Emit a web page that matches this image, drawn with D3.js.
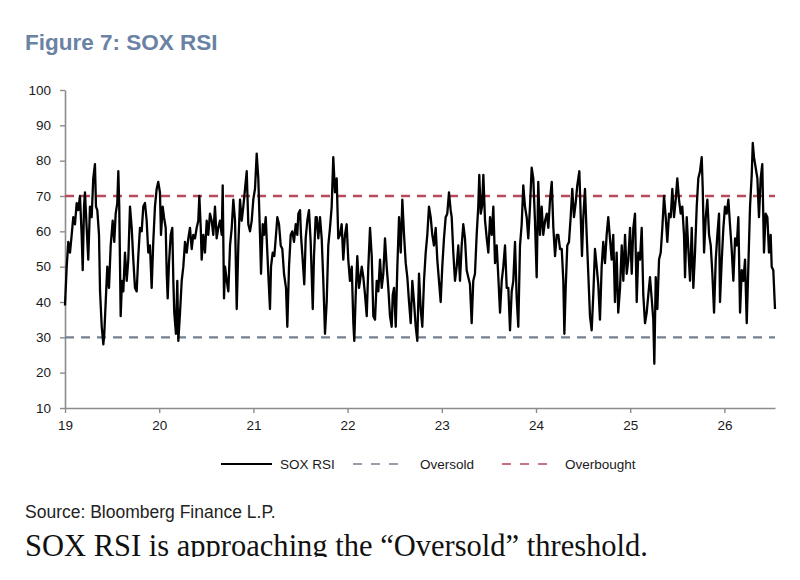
<!DOCTYPE html>
<html>
<head>
<meta charset="utf-8">
<script src="https://cdn.jsdelivr.net/npm/d3@7"></script>
<style>
  body { margin: 0; background: #fff; }
  svg { display: block; }
</style>
</head>
<body>
<svg id="chart" width="800" height="580"></svg>
<script>
// SOX RSI. yearOffset = years after 1 Jan 2019.
const startYear = 2019;

const yearOffset = [
  0.000, 0.018, 0.035, 0.053, 0.071, 0.088, 0.106, 0.124, 0.141, 0.159,
  0.177, 0.188, 0.202, 0.212, 0.230, 0.247, 0.265, 0.283, 0.300, 0.318,
  0.329, 0.343, 0.361, 0.372, 0.390, 0.407, 0.417, 0.432, 0.449, 0.467,
  0.485, 0.506, 0.523, 0.538, 0.555, 0.566, 0.576, 0.591, 0.605, 0.619,
  0.637, 0.655, 0.672, 0.690, 0.708, 0.725, 0.743, 0.761, 0.778, 0.796,
  0.814, 0.831, 0.849, 0.867, 0.884, 0.902, 0.920, 0.937, 0.955, 0.973,
  0.990, 1.008, 1.019, 1.037, 1.051, 1.069, 1.080, 1.090, 1.104, 1.122,
  1.139, 1.150, 1.160, 1.178, 1.192, 1.203, 1.221, 1.239, 1.256, 1.274,
  1.292, 1.309, 1.327, 1.345, 1.362, 1.380, 1.398, 1.415, 1.426, 1.441,
  1.451, 1.468, 1.486, 1.504, 1.521, 1.539, 1.557, 1.574, 1.592, 1.610,
  1.627, 1.645, 1.664, 1.674, 1.688, 1.699, 1.717, 1.734, 1.752, 1.770,
  1.787, 1.805, 1.823, 1.840, 1.858, 1.876, 1.893, 1.911, 1.929, 1.946,
  1.964, 1.982, 1.999, 2.017, 2.035, 2.052, 2.070, 2.081, 2.099, 2.113,
  2.131, 2.141, 2.158, 2.176, 2.187, 2.205, 2.222, 2.240, 2.254, 2.272,
  2.290, 2.307, 2.325, 2.346, 2.360, 2.378, 2.396, 2.413, 2.431, 2.449,
  2.466, 2.477, 2.495, 2.505, 2.523, 2.540, 2.555, 2.572, 2.590, 2.608,
  2.630, 2.643, 2.661, 2.672, 2.689, 2.707, 2.725, 2.742, 2.760, 2.778,
  2.795, 2.813, 2.831, 2.848, 2.866, 2.884, 2.901, 2.919, 2.937, 2.954,
  2.972, 2.990, 3.007, 3.025, 3.044, 3.061, 3.071, 3.086, 3.103, 3.121,
  3.132, 3.150, 3.167, 3.185, 3.203, 3.220, 3.238, 3.256, 3.273, 3.291,
  3.309, 3.326, 3.344, 3.362, 3.379, 3.397, 3.415, 3.432, 3.450, 3.468,
  3.479, 3.493, 3.511, 3.528, 3.546, 3.564, 3.581, 3.599, 3.617, 3.634,
  3.652, 3.670, 3.687, 3.705, 3.723, 3.740, 3.758, 3.776, 3.793, 3.811,
  3.829, 3.846, 3.864, 3.882, 3.899, 3.917, 3.935, 3.952, 3.970, 3.988,
  4.005, 4.023, 4.041, 4.058, 4.076, 4.094, 4.105, 4.122, 4.140, 4.158,
  4.175, 4.193, 4.211, 4.228, 4.246, 4.264, 4.281, 4.299, 4.317, 4.334,
  4.352, 4.370, 4.387, 4.398, 4.413, 4.427, 4.441, 4.459, 4.477, 4.494,
  4.512, 4.530, 4.547, 4.565, 4.583, 4.600, 4.618, 4.636, 4.653, 4.671,
  4.689, 4.706, 4.724, 4.742, 4.759, 4.777, 4.795, 4.812, 4.830, 4.848,
  4.865, 4.883, 4.901, 4.918, 4.936, 4.954, 4.971, 4.989, 5.007, 5.024,
  5.042, 5.060, 5.077, 5.096, 5.114, 5.131, 5.149, 5.167, 5.184, 5.202,
  5.220, 5.237, 5.255, 5.273, 5.290, 5.301, 5.315, 5.332, 5.350, 5.368,
  5.385, 5.403, 5.421, 5.438, 5.460, 5.475, 5.488, 5.502, 5.520, 5.538,
  5.555, 5.573, 5.591, 5.608, 5.626, 5.644, 5.661, 5.679, 5.697, 5.714,
  5.732, 5.750, 5.767, 5.785, 5.803, 5.820, 5.838, 5.856, 5.873, 5.892,
  5.910, 5.927, 5.945, 5.963, 5.980, 5.998, 6.016, 6.033, 6.051, 6.069,
  6.086, 6.104, 6.122, 6.139, 6.157, 6.175, 6.192, 6.210, 6.228, 6.245,
  6.256, 6.271, 6.288, 6.306, 6.324, 6.341, 6.359, 6.377, 6.394, 6.412,
  6.430, 6.447, 6.465, 6.483, 6.500, 6.518, 6.536, 6.553, 6.571, 6.582,
  6.600, 6.617, 6.635, 6.653, 6.670, 6.688, 6.706, 6.723, 6.741, 6.759,
  6.770, 6.784, 6.802, 6.819, 6.837, 6.855, 6.872, 6.890, 6.908, 6.925,
  6.943, 6.953, 6.972, 6.989, 7.006, 7.024, 7.042, 7.059, 7.077, 7.095,
  7.113, 7.131, 7.148, 7.166, 7.184, 7.201, 7.219, 7.237, 7.254, 7.272,
  7.290, 7.301, 7.314, 7.332, 7.350, 7.367, 7.385, 7.402, 7.420, 7.438,
  7.456, 7.473, 7.491, 7.502, 7.519, 7.537
];

const rsi = [
  39, 50, 57, 54, 59, 64, 62, 68, 66, 70,
  59, 49, 67, 71, 61, 52, 67, 64, 75, 79,
  67, 66, 59, 43, 33, 28, 31, 40, 50, 44,
  56, 63, 57, 65, 68, 77, 67, 36, 46, 43,
  54, 46, 52, 67, 61, 52, 44, 43, 53, 61,
  60, 67, 68, 63, 54, 56, 44, 57, 67, 72,
  74, 71, 59, 67, 64, 61, 48, 41, 51, 59,
  61, 46, 37, 31, 46, 29, 37, 46, 50, 57,
  54, 58, 61, 55, 59, 58, 61, 63, 70, 61,
  52, 59, 54, 63, 59, 65, 63, 59, 67, 58,
  61, 63, 59, 73, 41, 50, 46, 43, 56, 61,
  69, 63, 38, 56, 69, 63, 67, 72, 77, 62,
  60, 63, 69, 72, 82, 75, 59, 48, 62, 59,
  64, 58, 48, 38, 50, 54, 53, 59, 64, 62,
  56, 55, 48, 44, 33, 50, 59, 60, 57, 62,
  59, 65, 66, 59, 52, 45, 58, 63, 66, 57,
  38, 53, 64, 64, 58, 64, 58, 46, 31, 40,
  56, 61, 67, 81, 71, 75, 58, 59, 62, 52,
  59, 62, 52, 46, 50, 34, 29, 42, 53, 44,
  46, 50, 47, 42, 36, 50, 61, 53, 36, 35,
  46, 43, 52, 44, 48, 58, 50, 44, 36, 33,
  42, 44, 33, 50, 64, 54, 69, 59, 51, 47,
  40, 34, 46, 40, 33, 29, 48, 38, 33, 46,
  54, 59, 67, 64, 59, 56, 61, 52, 46, 40,
  50, 58, 64, 65, 71, 66, 64, 54, 46, 50,
  56, 46, 56, 62, 58, 49, 47, 45, 34, 46,
  48, 59, 67, 76, 65, 67, 76, 63, 58, 54,
  64, 59, 67, 51, 56, 47, 37, 46, 50, 56,
  44, 44, 32, 43, 46, 57, 41, 33, 56, 62,
  73, 67, 64, 58, 67, 78, 75, 63, 47, 74,
  59, 67, 59, 63, 65, 61, 69, 74, 61, 53,
  59, 59, 55, 55, 46, 31, 44, 56, 57, 64,
  72, 64, 68, 73, 77, 64, 53, 64, 72, 59,
  48, 36, 32, 42, 55, 50, 45, 35, 50, 57,
  51, 59, 64, 58, 52, 59, 40, 54, 37, 44,
  56, 46, 59, 48, 52, 61, 48, 61, 65, 40,
  54, 52, 61, 42, 34, 37, 42, 47, 41, 35,
  22.5, 47, 38, 52, 54, 61, 70, 64, 57, 65,
  64, 72, 64, 69, 75, 69, 65, 67, 59, 47,
  64, 55, 46, 61, 44, 54, 67, 75, 77, 81,
  72, 54, 64, 69, 59, 56, 48, 37, 52, 59,
  65, 40, 52, 61, 67, 65, 69, 62, 55, 46,
  58, 56, 64, 37, 49, 46, 52, 34, 50, 67,
  76, 85, 81, 78, 75, 64, 75, 79, 54, 65,
  64, 54, 59, 50, 49, 38
];

const yTicks = [10, 20, 30, 40, 50, 60, 70, 80, 90, 100];
const xTicks = [2019, 2020, 2021, 2022, 2023, 2024, 2025, 2026];
const thresholds = [30, 70];            // oversold, overbought
const legendLabels = ['SOX RSI', 'Oversold', 'Overbought'];

const title = 'Figure 7: SOX RSI';
const source = 'Source: Bloomberg Finance L.P.';
const caption = 'SOX RSI is approaching the \u201cOversold\u201d threshold.';

const series = yearOffset.map((t, i) => ({ year: startYear + t, value: rsi[i] }));

const svg = d3.select('#chart');
const font = 'Arial, "Liberation Sans", Helvetica, sans-serif';
const axisColor = '#8c8c8c';
const lineColors = ['#000000', '#74808f', '#b84a5c'];

svg.append('rect').attr('width', 800).attr('height', 580).attr('fill', '#fff');

const x = d3.scaleLinear()
  .domain([startYear, startYear + yearOffset[yearOffset.length - 1]])
  .range([65, 775]);
const y = d3.scaleLinear().domain([10, 100]).range([408, 90]);

// title
svg.append('text')
  .attr('x', 25).attr('y', 50)
  .attr('font-family', font).attr('font-size', 22.5).attr('font-weight', 'bold')
  .attr('fill', '#6a82a3')
  .text(title);

// axes
const yAxis = svg.append('g')
  .attr('transform', `translate(${x.range()[0]},0)`)
  .call(d3.axisLeft(y).tickValues(yTicks).tickSize(5).tickSizeOuter(0).tickPadding(9));
const xAxis = svg.append('g')
  .attr('transform', `translate(0,${y.range()[0]})`)
  .call(d3.axisBottom(x).tickValues(xTicks).tickFormat(d => String(d).slice(2))
    .tickSize(5).tickSizeOuter(0).tickPadding(7));

[yAxis, xAxis].forEach(g => {
  g.select('.domain').attr('stroke', axisColor).attr('stroke-width', 1.6);
  g.selectAll('.tick line').attr('stroke', axisColor).attr('stroke-width', 1.4);
  g.selectAll('.tick text')
    .attr('font-family', font).attr('font-size', 13.5).attr('fill', '#1a1a1a');
});

// threshold lines
svg.append('g').selectAll('line')
  .data(thresholds)
  .join('line')
  .attr('x1', x.range()[0]).attr('x2', x.range()[1])
  .attr('y1', d => y(d)).attr('y2', d => y(d))
  .attr('stroke', (d, i) => lineColors[i + 1])
  .attr('stroke-width', 2.4)
  .attr('stroke-dasharray', '9,7');

// RSI line
const line = d3.line().x(d => x(d.year)).y(d => y(d.value));
svg.append('path')
  .datum(series)
  .attr('d', line)
  .attr('fill', 'none')
  .attr('stroke', lineColors[0])
  .attr('stroke-width', 2.3)
  .attr('stroke-linejoin', 'round');

// legend
const legendX = [221, 353, 502];
const legend = svg.append('g').attr('transform', 'translate(0,464)');
const items = legend.selectAll('g')
  .data(legendLabels)
  .join('g')
  .attr('transform', (d, i) => `translate(${legendX[i]},0)`);
items.append('line')
  .attr('x1', 0).attr('x2', (d, i) => i === 0 ? 51 : 50)
  .attr('stroke', (d, i) => lineColors[i])
  .attr('stroke-width', (d, i) => i === 0 ? 2 : 1.6)
  .attr('stroke-dasharray', (d, i) => i === 0 ? null : '9,9');
items.append('text')
  .attr('x', (d, i) => i === 0 ? 59 : i === 1 ? 67 : 63)
  .attr('dy', '0.35em')
  .attr('font-family', font).attr('font-size', 13.5).attr('fill', '#1a1a1a')
  .text(d => d);

// source + caption
svg.append('text')
  .attr('x', 25).attr('y', 518)
  .attr('font-family', font).attr('font-size', 17.5).attr('fill', '#222')
  .text(source);

svg.append('clipPath').attr('id', 'capClip')
  .append('rect').attr('x', 0).attr('y', 520).attr('width', 800).attr('height', 37);
svg.append('text')
  .attr('x', 25).attr('y', 556)
  .attr('clip-path', 'url(#capClip)')
  .attr('font-family', '"Liberation Serif", "Times New Roman", serif')
  .attr('font-size', 31).attr('fill', '#111')
  .attr('textLength', 623).attr('lengthAdjust', 'spacingAndGlyphs')
  .text(caption);
</script>
</body>
</html>
